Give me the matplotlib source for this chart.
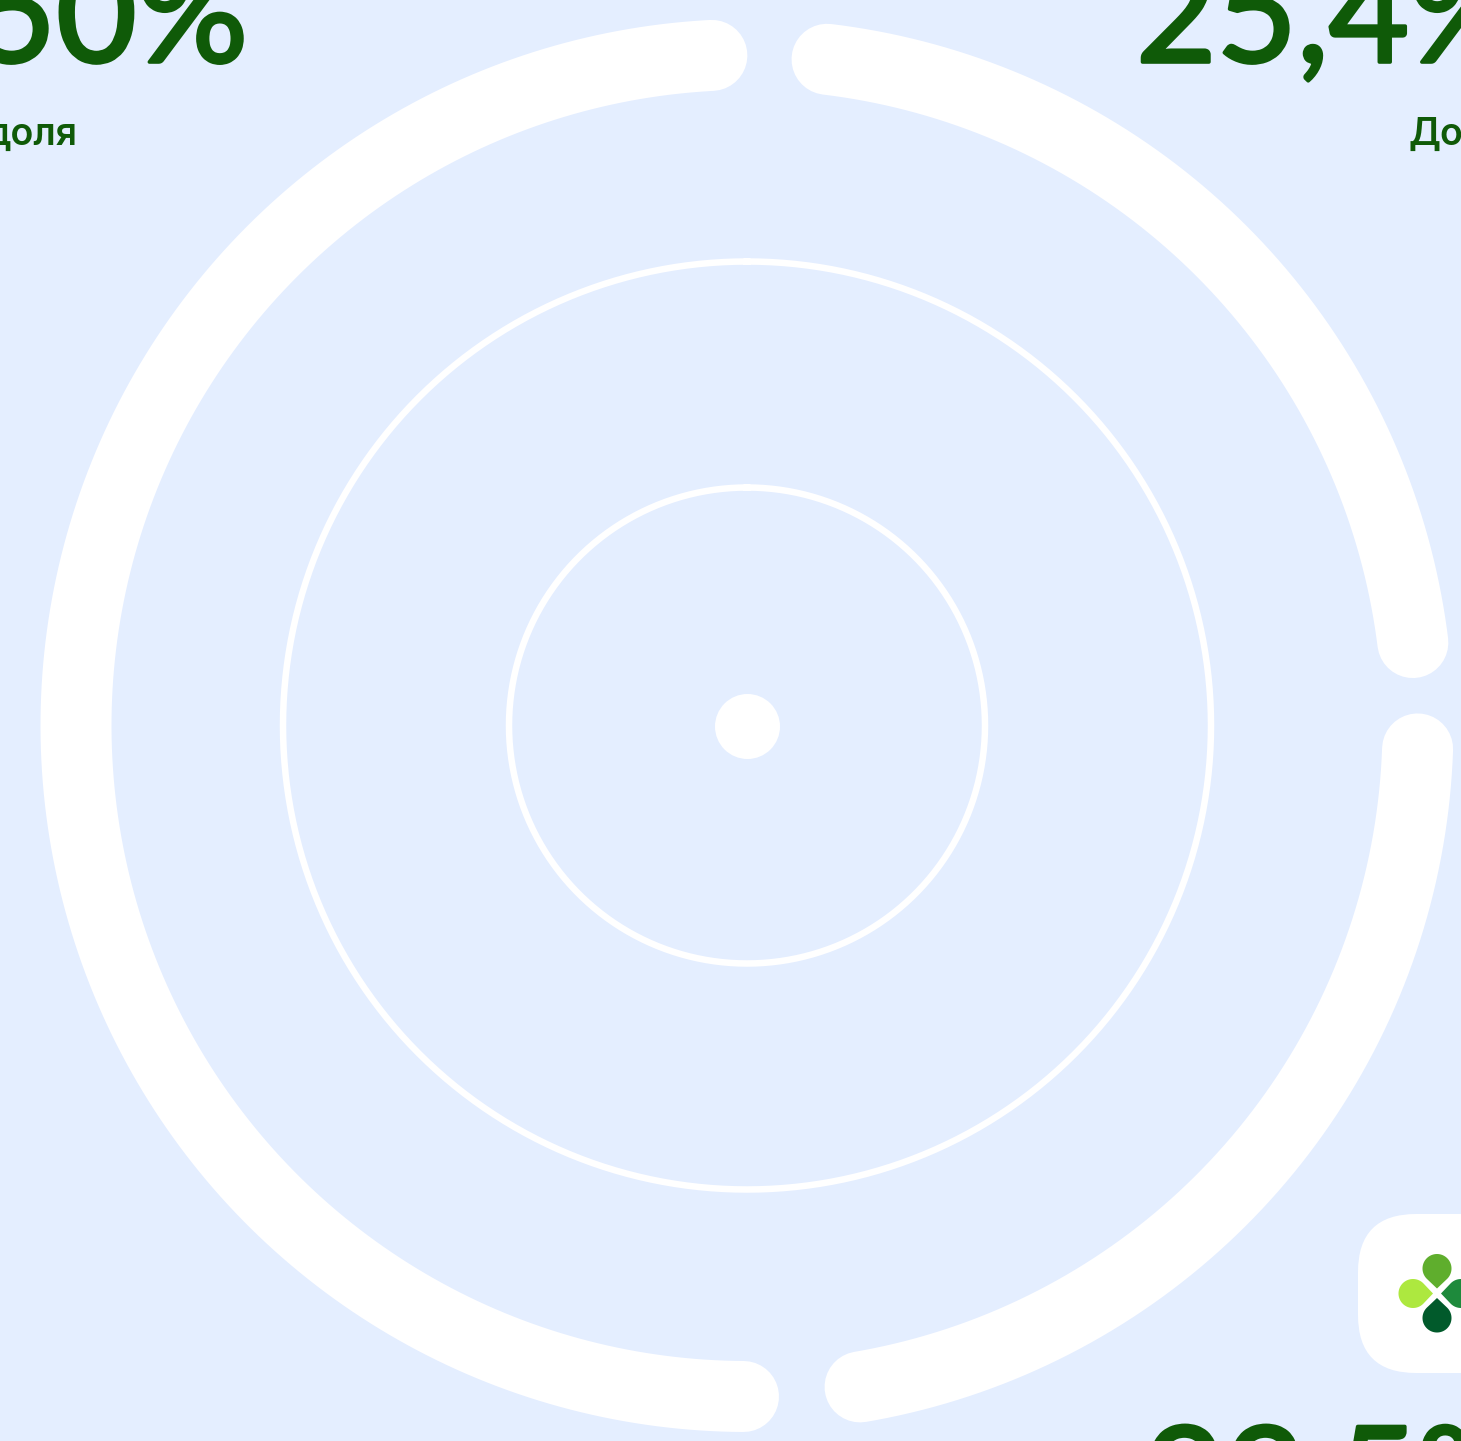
import numpy as np
import matplotlib
matplotlib.use("Agg")
import matplotlib.pyplot as plt
import matplotlib.patheffects as pe
from matplotlib.patches import FancyBboxPatch, Polygon

W, H = 1461, 1441
CX, CY = 747, 725.5
BG = "#e4eeff"
GREEN = "#0f5a08"

# shares, clockwise degrees from 12 o'clock (start, end of each arc)
arc_labels = ["50%", "25,4%", "23,5%"]
arc_start = [180.3, 6.85, 92.0]
arc_end = [357.0, 82.9, 170.3]
ring_radius = [671, 464, 238]

plt.rcParams["font.family"] = ["Inter", "DejaVu Sans"]

fig = plt.figure(figsize=(W / 100, H / 100), dpi=100, facecolor=BG)

# polar axes placed so that 1 radial unit = 1 pixel
R = 747
ax = fig.add_axes([(CX - R) / W, (H - CY - R) / H, 2 * R / W, 2 * R / H], projection="polar")
ax.set_theta_zero_location("N")
ax.set_theta_direction(-1)
ax.set_rlim(0, R)
ax.axis("off")

for a, b in zip(arc_start, arc_end):
    th = np.radians(np.linspace(a, b, 400))
    ax.plot(th, np.full_like(th, ring_radius[0]), color="white", lw=71 * 0.72,
            solid_capstyle="round")

for r in ring_radius[1:]:
    th = np.radians(np.linspace(0, 360, 721))
    ax.plot(th, np.full_like(th, r), color="white", lw=6.5 * 0.72)

ax.plot([0], [0], "o", color="white", ms=65 * 0.72, mew=0)

# overlay in pixel coordinates for texts and the logo
ov = fig.add_axes([0, 0, 1, 1], facecolor="none")
ov.set_xlim(0, W)
ov.set_ylim(H, 0)
ov.axis("off")

# Lato regular is too thin for the big numbers, so thicken it with a stroke
thick = [pe.withStroke(linewidth=2.6, foreground=GREEN)]
big = dict(color=GREEN, fontsize=100, family=["Lato", "DejaVu Sans"], va="baseline", path_effects=thick)
small = dict(color=GREEN, fontsize=27, fontweight="semibold", va="baseline")
ov.text(248, 62, arc_labels[0], ha="right", **big)
ov.text(1136, 62, arc_labels[1], ha="left", **big)
ov.text(1144, 1526, arc_labels[2], ha="left", **big)
ov.text(77, 145, "доля", ha="right", **small)
ov.text(1408, 145, "Доля", ha="left", **small)

card = FancyBboxPatch((1358, 1214), 160, 159, boxstyle="round,pad=0,rounding_size=58",
                      fc="white", ec="none")
ov.add_patch(card)


def petal(tip, angle, color):
    # teardrop: circle of radius 14.5 with a 90 degree point at tip
    c = np.radians(angle)
    tip = np.array(tip, dtype=float)
    centre = tip + 20.0 * np.array([np.cos(c), np.sin(c)])
    t = np.linspace(c - np.radians(135), c + np.radians(135), 60)
    arc = centre + 14.5 * np.column_stack([np.cos(t), np.sin(t)])
    ov.add_patch(Polygon(np.vstack([tip, arc]), closed=True, fc=color, ec="none"))


petal((1437, 1288.5), -90, "#5fae2d")
petal((1433, 1293.5), 180, "#ade83f")
petal((1441, 1293.5), 0, "#1e8a3c")
petal((1437, 1298), 90, "#015a2b")

fig.savefig("out.png", dpi=100, facecolor=BG)
